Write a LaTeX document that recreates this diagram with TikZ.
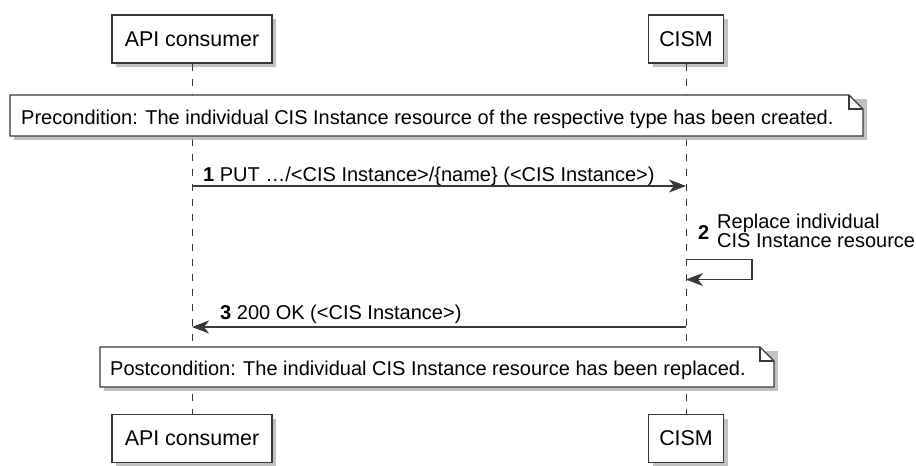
\documentclass[tikz,border=0pt]{standalone}
\usepackage{fontspec}
\setmainfont{Liberation Sans}
\usetikzlibrary{arrows.meta,shadows}
\definecolor{ln}{HTML}{383838}
\definecolor{shd}{HTML}{A8A8A8}
\tikzset{
  part/.style={draw=ln, line width=1.4pt, fill=white, minimum height=48pt,
    inner sep=0pt, font=\fontsize{21.4}{24}\selectfont,
    drop shadow={shadow xshift=4pt, shadow yshift=-4pt, fill=shd, opacity=0.7}},
  life/.style={draw=ln, line width=1pt, dash pattern=on 7pt off 8pt},
  notebox/.style={draw=ln, line width=1.2pt, fill=white, line join=miter},
  noteshadow/.style={fill=shd, opacity=0.7},
  txt/.style={inner sep=0pt, font=\fontsize{20}{19}\selectfont},
  msg/.style={draw=ln, line width=1.2pt, -{Stealth[length=17pt, width=13pt, inset=5pt]}},
}
\begin{document}
\begin{tikzpicture}[x=1pt, y=-1pt]
\useasboundingbox (0,0) rectangle (916,466);

% participants
\node[part, minimum width=160pt] (apiT) at (192,39) {API consumer};
\node[part, minimum width=75pt] (cismT) at (686,39) {CISM};
\node[part, minimum width=160pt] (apiB) at (192,438.5) {API consumer};
\node[part, minimum width=75pt] (cismB) at (686,438.5) {CISM};

% lifelines
\draw[life] (apiT) -- (apiB);
\draw[life] (cismT) -- (cismB);

% precondition note
\fill[noteshadow] (14,99) -- (867,99) -- (867,140) -- (14,140) -- cycle;
\path[notebox] (10,95) -- (849,95) -- (863,109) -- (863,136) -- (10,136) -- cycle;
\draw[ln, line width=1.2pt] (849,95) -- (849,109) -- (863,109);
\node[txt, anchor=base west] (pre) at (21,124)
  {Precondition: The individual CIS Instance resource of the respective type has been created.};

% message 1
\coordinate (m1a) at (192,186);
\coordinate (m1b) at (686,186);
\draw[msg] (m1a) -- (m1b);
\node[txt, anchor=base west] (l1) at (203,181)
  {\textbf{1} PUT …/<CIS Instance>/\{name\} (<CIS Instance>)};

% message 2 (self)
\coordinate (s2a) at (686,259.5);
\coordinate (s2b) at (686,279.5);
\draw[msg] (s2a) -- (752,259.5) -- (752,279.5) -- (s2b);
\node[txt, anchor=base west] (n2) at (698,239) {\textbf{2}};
\node[txt, anchor=base west] (l2a) at (717,228) {Replace individual};
\node[txt, anchor=base west] (l2b) at (717,247) {CIS Instance resource};

% message 3
\coordinate (m3a) at (686,327);
\coordinate (m3b) at (192,327);
\draw[msg] (m3a) -- (m3b);
\node[txt, anchor=base west] (l3) at (220,319)
  {\textbf{3} 200 OK (<CIS Instance>)};

% postcondition note
\fill[noteshadow] (104,351) -- (778,351) -- (778,391) -- (104,391) -- cycle;
\path[notebox] (100,347) -- (760,347) -- (774,361) -- (774,387) -- (100,387) -- cycle;
\draw[ln, line width=1.2pt] (760,347) -- (760,361) -- (774,361);
\node[txt, anchor=base west] (post) at (110,375)
  {Postcondition: The individual CIS Instance resource has been replaced.};
\end{tikzpicture}
\end{document}
